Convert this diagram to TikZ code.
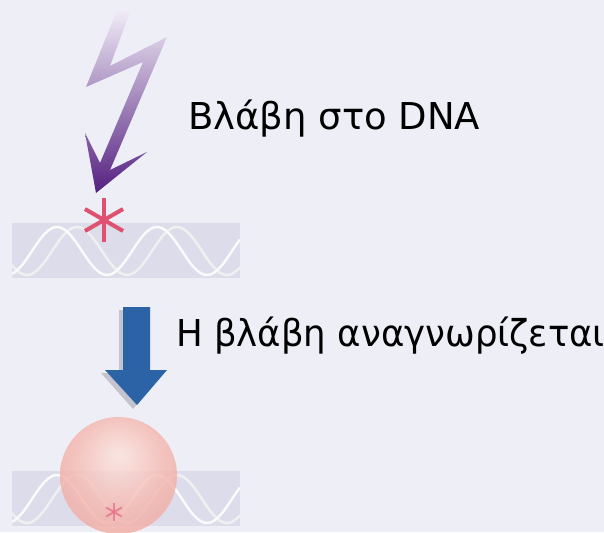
\documentclass[tikz,border=0pt]{standalone}
\usepackage{fontspec}
\setmainfont{DejaVu Sans}
\newfontfamily\narrowfont[FakeStretch=0.96]{DejaVu Sans}
\usepackage{xcolor}

\definecolor{bgcol}{RGB}{238,238,246}
\definecolor{stripcol}{RGB}{220,220,234}
\definecolor{boltlight}{RGB}{242,238,248}
\definecolor{boltdark}{RGB}{84,32,128}
\definecolor{starcol}{RGB}{224,80,112}
\definecolor{arrowblue}{RGB}{43,99,166}
\definecolor{shadowcol}{RGB}{196,196,206}
\definecolor{pinkhi}{RGB}{252,228,222}
\definecolor{pinkmid}{RGB}{245,184,176}
\definecolor{pinkedge}{RGB}{240,166,158}

\pgfdeclareradialshading{sphereglow}{\pgfpoint{0bp}{9bp}}{%
  color(0bp)=(pinkhi); color(20bp)=(pinkmid); color(34bp)=(pinkedge); color(50bp)=(pinkedge)}

\begin{document}
\begin{tikzpicture}[x=1pt, y=-1pt]
    \useasboundingbox (0,0) rectangle (604,532);
    \fill[bgcol] (0,0) rectangle (604,532);

    % DNA strips with the two strands
    \foreach \top in {223, 471} {
        \fill[stripcol] (12,\top) rectangle (240,\top+55);
        \begin{scope}
            \clip (12,\top) rectangle (240,\top+55);
            \draw[line width=2.5, gray!12] plot[domain=12:240, samples=90]
                (\x, {\top+28-24*cos(3.6*(\x-77))});
            \draw[line width=2.5, white!96!gray] plot[domain=12:240, samples=90]
                (\x, {\top+28-24*cos(3.6*(\x-57))});
        \end{scope}
    }

    % Lightning bolt
    \shade[top color=boltlight, bottom color=boltdark]
        (118,8) -- (130,12) -- (110,66) -- (167,37) -- (110,170) -- (147,152)
        -- (96,193) -- (85,133) -- (100,163) -- (143,62) -- (86,87) -- cycle;

    % Damage mark
    \foreach \a in {90,30,-30}
        \draw[starcol, line width=4] (104,220) ++(\a:22) -- ++(\a+180:44);

    % Blue arrow with its shadow
    \fill[shadowcol] (119,310) -- (146,310) -- (146,373) -- (163,373)
        -- (133,409) -- (101,373) -- (119,373) -- cycle;
    \fill[arrowblue] (123,307) -- (150,307) -- (150,370) -- (167,370)
        -- (137,405) -- (105,370) -- (123,370) -- cycle;

    % Recognising protein
    \shade[shading=sphereglow, opacity=0.82] (118.5,475.5) circle (58.5);
    \foreach \a in {90,30,-30}
        \draw[starcol!80, opacity=0.8, line width=2] (114,512) ++(\a:9) -- ++(\a+180:18);

    % Labels
    \node[anchor=base west, inner sep=0, font=\fontsize{37}{40}\selectfont] (damage)
        at (188,129) {Βλάβη στο DNA};
    \node[anchor=base west, inner sep=0, font=\narrowfont\fontsize{37}{40}\selectfont] (recog)
        at (176,346) {Η βλάβη αναγνωρίζεται};
\end{tikzpicture}
\end{document}
